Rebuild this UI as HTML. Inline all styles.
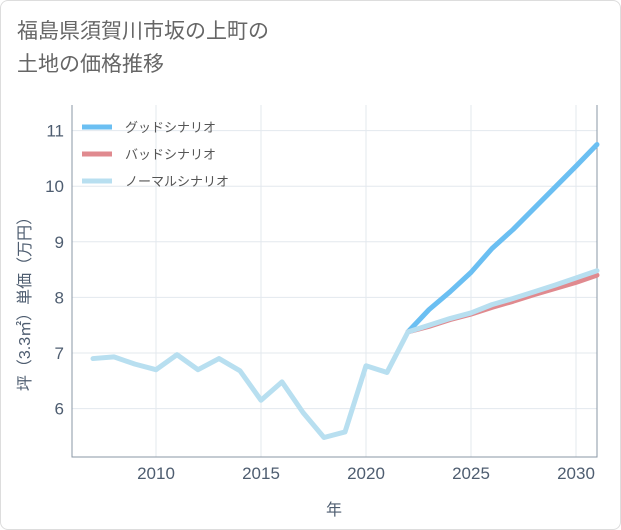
<!DOCTYPE html>
<html><head><meta charset="utf-8"><style>
body{margin:0;background:#fff;}
#wrap{position:relative;width:619px;height:528px;border:1px solid #ddd;border-radius:8px;overflow:hidden;font-family:"Liberation Sans","Noto Sans CJK JP",sans-serif;}
#title{position:absolute;left:16px;top:14px;font-size:21px;line-height:33px;color:#666;}
</style></head><body>
<div id="wrap">
<div id="title">福島県須賀川市坂の上町の<br>土地の価格推移</div>
<svg id="chart" width="621" height="530" style="position:absolute;left:-1px;top:-1px"></svg>
</div>
<script>
const years=[2007,2008,2009,2010,2011,2012,2013,2014,2015,2016,2017,2018,2019,2020,2021,2022,2023,2024,2025,2026,2027,2028,2029,2030,2031];
const normal=[6.9,6.93,6.8,6.7,6.97,6.7,6.9,6.68,6.15,6.48,5.93,5.48,5.58,6.77,6.65,7.38,7.5,7.62,7.72,7.87,7.98,8.1,8.22,8.35,8.48];
const fYears=[2022,2023,2024,2025,2026,2027,2028,2029,2030,2031];
const good=[7.38,7.78,8.1,8.45,8.88,9.22,9.6,9.98,10.36,10.75];
const bad=[7.38,7.48,7.6,7.7,7.82,7.93,8.05,8.16,8.27,8.4];
const xTicks=[2010,2015,2020,2025,2030];
const yTicks=[6,7,8,9,10,11];
const L=72,R=597,T=105,B=457;
const x=v=>L+(v-2006)*(R-L)/25;
const y=v=>353-(v-7)*55.6;
const svg=document.getElementById('chart');
const NS='http://www.w3.org/2000/svg';
const TC='#4e5d70';
function mk(t,a){const e=document.createElementNS(NS,t);for(const k in a)e.setAttribute(k,a[k]);svg.appendChild(e);return e;}
xTicks.forEach(v=>{const l=mk('line',{x1:x(v),x2:x(v),y1:T,y2:B,stroke:'#e3e8ee'});


const t=mk('text',{x:x(v),y:B+22,'text-anchor':'middle','font-size':17,fill:TC});t.textContent=v;

});
yTicks.forEach(v=>{const l=mk('line',{x1:L,x2:R,y1:y(v),y2:y(v),stroke:'#e3e8ee'});


const t=mk('text',{x:L-8,y:y(v)+6,'text-anchor':'end','font-size':17,fill:TC});t.textContent=v;

});
const ax=mk('path',{d:`M${L},${T}V${B}H${R}V${T}`,fill:'none',stroke:'#8a97a6'});


function line(xs,vs,c,w,n){const p=mk('polyline',{points:xs.map((v,i)=>x(v)+','+y(vs[i])).join(' '),fill:'none',stroke:c,'stroke-width':w,'stroke-linejoin':'round','stroke-linecap':'round'});

}
line(fYears,good,'#6bbff2',5,'good-scenario-line');
line(fYears,bad,'#e08a8f',5,'bad-scenario-line');
line(years,normal,'#b8dff0',5,'normal-scenario-line');
const leg=[['グッドシナリオ','#6bbff2'],['バッドシナリオ','#e08a8f'],['ノーマルシナリオ','#b8dff0']];
leg.forEach((d,i)=>{const yy=127+i*27;const l=mk('line',{x1:82,x2:112,y1:yy,y2:yy,stroke:d[1],'stroke-width':5});


const t=mk('text',{x:125,y:yy+5,'font-size':13,fill:'#555'});t.textContent=d[0];

});
const xt=mk('text',{x:334,y:515,'text-anchor':'middle','font-size':16,fill:TC});xt.textContent='年';


const yt=mk('text',{x:0,y:0,'text-anchor':'middle','font-size':16,fill:TC,transform:'translate(30,300) rotate(-90)'});yt.textContent='坪（3.3㎡）単価（万円）';


</script>
</body></html>
